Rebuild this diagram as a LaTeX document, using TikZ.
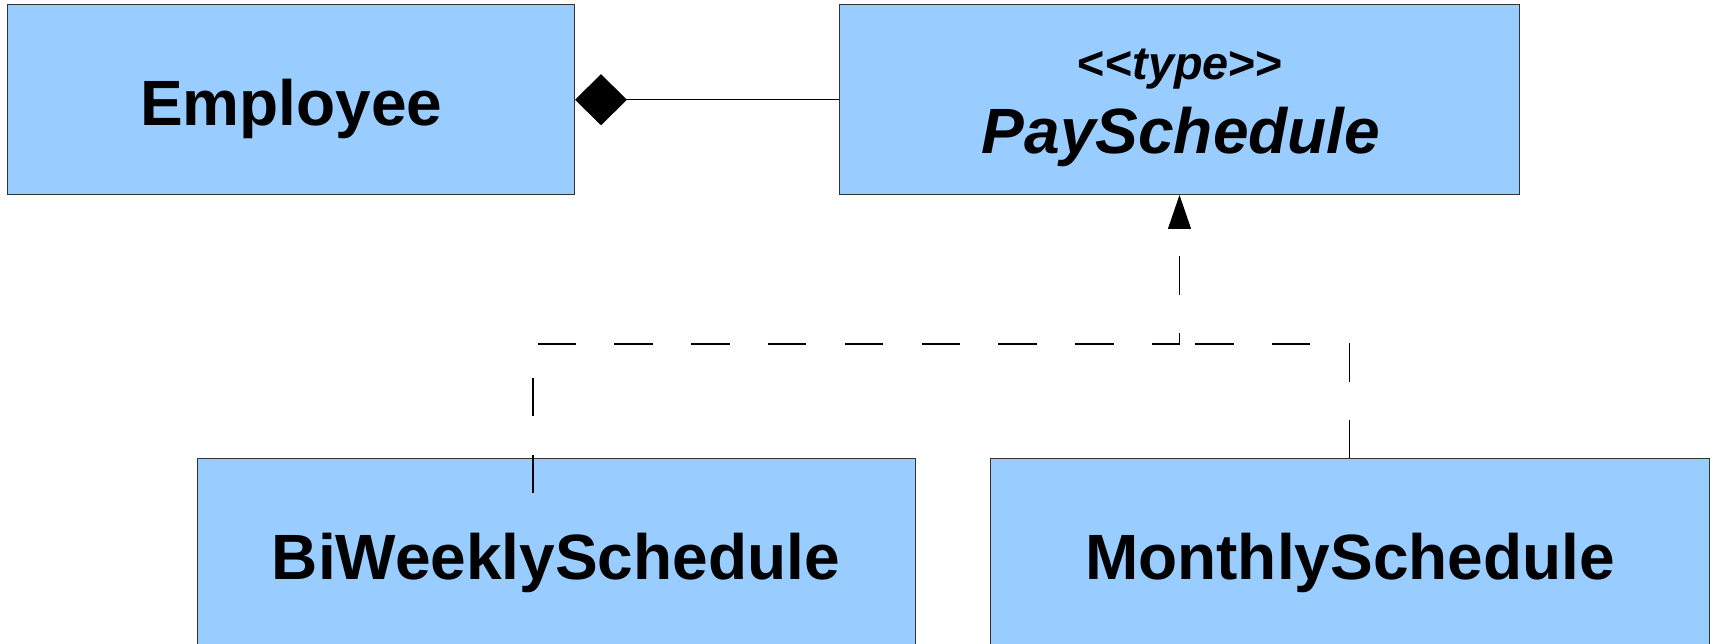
\documentclass[tikz,border=0pt]{standalone}
\usepackage{fontspec}
\setmainfont{Liberation Sans}
\usetikzlibrary{arrows.meta}
\definecolor{classblue}{HTML}{99CCFF}
\definecolor{edgegray}{HTML}{333333}
\begin{document}
\begin{tikzpicture}[x=0.4pt,y=-0.4pt,
  classbox/.style={draw=edgegray,fill=classblue,line width=0.4pt,rectangle,inner sep=0pt},
  classname/.style={anchor=base,inner sep=0pt,font=\fontsize{25.6pt}{30pt}\selectfont\bfseries},
  stereo/.style={anchor=base,inner sep=0pt,font=\fontsize{18.7pt}{22pt}\selectfont\bfseries},
  link/.style={draw=black,line width=0.45pt},
  realize/.style={link,dash pattern=on 15.36pt off 15.36pt}
]
\useasboundingbox (0,0) rectangle (1714,644);
\clip (0,0) rectangle (1714,644);

% class boxes
\node[classbox,minimum width=567*0.4pt,minimum height=189.5*0.4pt] (emp) at (291,99.75) {};
\node[classbox,minimum width=680*0.4pt,minimum height=189.5*0.4pt] (pay) at (1179.5,99.75) {};
\node[classbox,minimum width=718*0.4pt,minimum height=206*0.4pt] (biw) at (556,562) {};
\node[classbox,minimum width=719*0.4pt,minimum height=206*0.4pt] (mon) at (1349.5,562) {};

% class names
\node[classname] (empname) at (291.3,125.7) {Employee};
\node[stereo] (paystereo) at (1180.5,80) {<{}<\textit{type}>{}>};
\node[classname,font=\fontsize{25.6pt}{30pt}\selectfont\bfseries\itshape] (payname) at (1181,154) {PaySchedule};
\node[classname] (biwname) at (555.8,579.3) {BiWeeklySchedule};
\node[classname] (monname) at (1350,579.3) {MonthlySchedule};

% composition
\draw[link,{Diamond[length=20.8pt,width=20.4pt]}-] (emp.east) -- (pay.west);

% realizations
\coordinate (biwend) at (533,493);
\coordinate (join) at (1179.5,344);
\draw[realize,-{Triangle[length=13.6pt,width=9.2pt]}]
  (biwend) -- (533,344) -- (join) -- (pay.south);
\draw[realize] (mon.north) -- (1349.5,344) -- (join);
\end{tikzpicture}
\end{document}
